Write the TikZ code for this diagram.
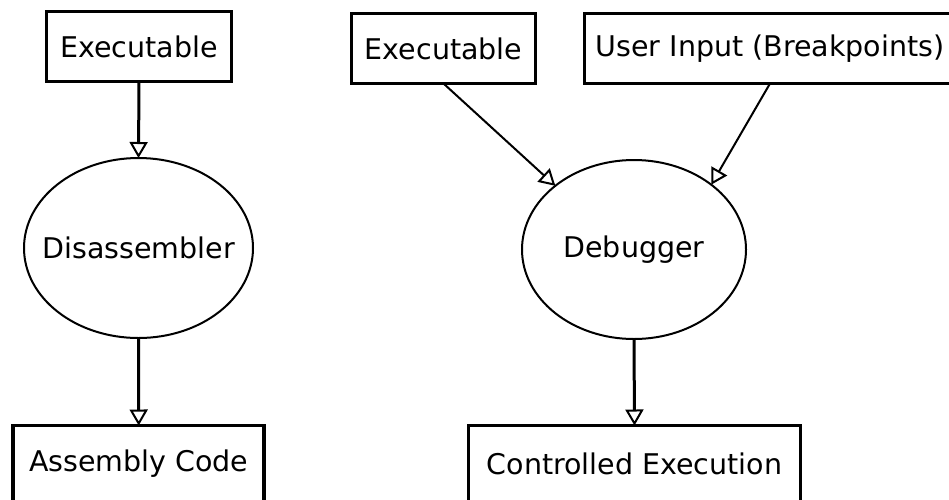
\documentclass[tikz,border=0pt]{standalone}
\usepackage{fontspec}
\setmainfont{DejaVu Sans}
\usetikzlibrary{shapes.geometric,arrows.meta}
\begin{document}
\begin{tikzpicture}[x=1pt,y=-1pt,
  every node/.style={font=\fontsize{28.5}{34}\selectfont, inner sep=0pt, outer sep=0pt},
  box/.style={draw, rectangle, line width=3.6pt, fill=white},
  oval/.style={draw, ellipse, line width=2pt},
  flow/.style={line width=#1, -{Triangle[open, length=16pt, width=18pt, line width=2pt]}},
  flow/.default=3pt]
\useasboundingbox (0,0) rectangle (949,499);
\clip (0,0) rectangle (949,499);
\fill[white] (0,0) rectangle (949,499);
% left chain
\node[box, minimum width=185pt, minimum height=70pt] (ex1) at (139,46.5) {Executable};
\node[oval, minimum width=229pt, minimum height=180pt, label={center:Disassembler}] (dis) at (138.5,248) {};
\node[box, minimum width=251pt, minimum height=76pt] (asm) at (138.7,463.5) {Assembly Code};
% right chain
\node[box, minimum width=184pt, minimum height=70pt] (ex2) at (443.5,48.5) {Executable};
\node[box, minimum width=371pt, minimum height=70pt] (ui) at (770,48.5) {User Input (Breakpoints)};
\node[oval, minimum width=224pt, minimum height=179pt, label={center:Debugger}] (dbg) at (634,249.5) {};
\node[box, minimum width=332pt, minimum height=76pt] (ctl) at (634.5,463.5) {Controlled Execution};
% connectors
\draw[flow] (ex1.south) -- (dis.north);
\draw[flow] (dis.south) -- (asm.north);
\draw[flow=2pt] (ex2.south) -- (dbg.141);
\draw[flow=2pt] (ui.south) -- (dbg.40);
\draw[flow] (dbg.south) -- (ctl.north);
\end{tikzpicture}
\end{document}
